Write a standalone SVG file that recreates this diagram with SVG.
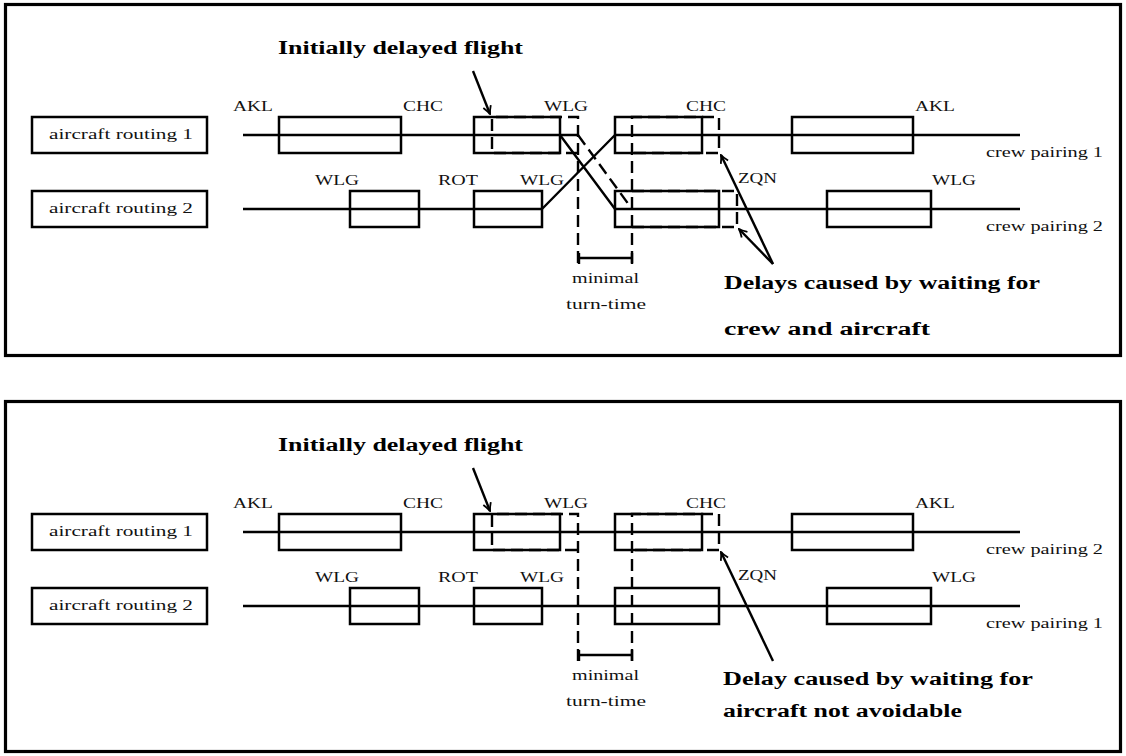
<svg xmlns="http://www.w3.org/2000/svg" width="1126" height="756" viewBox="0 0 1126 756">
<style>
.frame{fill:none;stroke:#000;stroke-width:3.2}
.box{fill:none;stroke:#000;stroke-width:2.5}
.ln{fill:none;stroke:#000;stroke-width:2.4}
.dash{fill:none;stroke:#000;stroke-width:2.4;stroke-dasharray:12 6}
.arr{fill:none;stroke:#000;stroke-width:2.4;marker-end:url(#ah)}
.t{font-family:"Liberation Serif",serif;font-size:14px;fill:#111}
.r{font-family:"Liberation Serif",serif;font-size:14.5px;fill:#111}
.b{font-family:"Liberation Serif",serif;font-size:18px;font-weight:bold;fill:#000}
.m{text-anchor:middle}
</style>
<defs>
<marker id="ah" viewBox="-9 -5 10 10" refX="0" refY="0" markerWidth="10" markerHeight="10" markerUnits="userSpaceOnUse" orient="auto">
<path d="M-8,-4 Q-3,-1 0,0 Q-3,1 -8,4" fill="none" stroke="#000" stroke-width="1.8"/>
</marker>
</defs>
<rect class="frame" x="5.5" y="4.5" width="1115" height="351"/>
<rect class="frame" x="5.5" y="401.5" width="1115" height="350"/>

<!-- TOP PANEL -->
<g id="top-panel">
<text class="b" x="278" y="54" textLength="245" lengthAdjust="spacingAndGlyphs">Initially delayed flight</text>
<g id="t-routing1"><rect class="box" x="32" y="117" width="175" height="36"/><text class="r" x="49" y="139" textLength="144" lengthAdjust="spacingAndGlyphs">aircraft routing 1</text></g>
<g id="t-routing2"><rect class="box" x="32" y="191" width="175" height="36"/><text class="r" x="49" y="213" textLength="144" lengthAdjust="spacingAndGlyphs">aircraft routing 2</text></g>
<g id="t-f11"><rect class="box" x="279" y="117" width="122" height="36"/></g>
<g id="t-f12"><rect class="box" x="474" y="117" width="86" height="36"/></g>
<g id="t-f13"><rect class="box" x="615" y="117" width="87" height="36"/></g>
<g id="t-f14"><rect class="box" x="792" y="117" width="121" height="36"/></g>
<g id="t-f21"><rect class="box" x="350" y="191" width="69" height="36"/></g>
<g id="t-f22"><rect class="box" x="474" y="191" width="68" height="36"/></g>
<g id="t-f23"><rect class="box" x="615" y="191" width="104" height="36"/></g>
<g id="t-f24"><rect class="box" x="827" y="191" width="104" height="36"/></g>
<g id="t-labels">
<text class="t" x="233" y="111" textLength="40" lengthAdjust="spacingAndGlyphs">AKL</text>
<text class="t" x="403" y="111" textLength="40" lengthAdjust="spacingAndGlyphs">CHC</text>
<text class="t" x="544" y="111" textLength="44" lengthAdjust="spacingAndGlyphs">WLG</text>
<text class="t" x="686" y="111" textLength="40" lengthAdjust="spacingAndGlyphs">CHC</text>
<text class="t" x="915" y="111" textLength="40" lengthAdjust="spacingAndGlyphs">AKL</text>
<text class="t" x="315" y="185" textLength="44" lengthAdjust="spacingAndGlyphs">WLG</text>
<text class="t" x="438" y="185" textLength="40" lengthAdjust="spacingAndGlyphs">ROT</text>
<text class="t" x="520" y="185" textLength="44" lengthAdjust="spacingAndGlyphs">WLG</text>
<text class="t" x="738" y="183" textLength="39" lengthAdjust="spacingAndGlyphs">ZQN</text>
<text class="t" x="932" y="185" textLength="44" lengthAdjust="spacingAndGlyphs">WLG</text>
<text class="t" x="986" y="157" textLength="117" lengthAdjust="spacingAndGlyphs">crew pairing 1</text>
<text class="t" x="986" y="231" textLength="117" lengthAdjust="spacingAndGlyphs">crew pairing 2</text>
<text class="t m" x="605.5" y="283" textLength="67" lengthAdjust="spacingAndGlyphs">minimal</text>
<text class="t m" x="606" y="309" textLength="80" lengthAdjust="spacingAndGlyphs">turn-time</text>
<text class="b" x="724" y="289" textLength="316" lengthAdjust="spacingAndGlyphs">Delays caused by waiting for</text>
<text class="b" x="724" y="335" textLength="206" lengthAdjust="spacingAndGlyphs">crew and aircraft</text>
</g>
</g>
<g id="top-connectors">
<path class="ln" d="M243,135 H578 M615,135 H1020 M243,209 H542 M615,209 H1020"/>
<path class="ln" d="M542,209 L615,135 M560,135 L615,209"/>
<path class="dash" d="M578,135 L632,209"/>
<path class="dash" d="M578,263 V117 H492 V153 H578"/>
<path class="dash" d="M632,263 V117 H719 V153 H632"/>
<path class="dash" d="M632,191 H737 V227 H632"/>
<path class="ln" d="M579,258 H632 M579,253 V264 M632,253 V264"/>
<path class="arr" d="M473,71 L490,114"/>
<path class="arr" d="M773,264 L721,155"/>
<path class="arr" d="M773,264 L739,229"/>
</g>

<!-- BOTTOM PANEL -->
<g id="bottom-panel">
<text class="b" x="278" y="451" textLength="245" lengthAdjust="spacingAndGlyphs">Initially delayed flight</text>
<g id="b-routing1"><rect class="box" x="32" y="514" width="175" height="36"/><text class="r" x="49" y="536" textLength="144" lengthAdjust="spacingAndGlyphs">aircraft routing 1</text></g>
<g id="b-routing2"><rect class="box" x="32" y="588" width="175" height="36"/><text class="r" x="49" y="610" textLength="144" lengthAdjust="spacingAndGlyphs">aircraft routing 2</text></g>
<g id="b-f11"><rect class="box" x="279" y="514" width="122" height="36"/></g>
<g id="b-f12"><rect class="box" x="474" y="514" width="86" height="36"/></g>
<g id="b-f13"><rect class="box" x="615" y="514" width="87" height="36"/></g>
<g id="b-f14"><rect class="box" x="792" y="514" width="121" height="36"/></g>
<g id="b-f21"><rect class="box" x="350" y="588" width="69" height="36"/></g>
<g id="b-f22"><rect class="box" x="474" y="588" width="68" height="36"/></g>
<g id="b-f23"><rect class="box" x="615" y="588" width="104" height="36"/></g>
<g id="b-f24"><rect class="box" x="827" y="588" width="104" height="36"/></g>
<g id="b-labels">
<text class="t" x="233" y="508" textLength="40" lengthAdjust="spacingAndGlyphs">AKL</text>
<text class="t" x="403" y="508" textLength="40" lengthAdjust="spacingAndGlyphs">CHC</text>
<text class="t" x="544" y="508" textLength="44" lengthAdjust="spacingAndGlyphs">WLG</text>
<text class="t" x="686" y="508" textLength="40" lengthAdjust="spacingAndGlyphs">CHC</text>
<text class="t" x="915" y="508" textLength="40" lengthAdjust="spacingAndGlyphs">AKL</text>
<text class="t" x="315" y="582" textLength="44" lengthAdjust="spacingAndGlyphs">WLG</text>
<text class="t" x="438" y="582" textLength="40" lengthAdjust="spacingAndGlyphs">ROT</text>
<text class="t" x="520" y="582" textLength="44" lengthAdjust="spacingAndGlyphs">WLG</text>
<text class="t" x="738" y="580" textLength="39" lengthAdjust="spacingAndGlyphs">ZQN</text>
<text class="t" x="932" y="582" textLength="44" lengthAdjust="spacingAndGlyphs">WLG</text>
<text class="t" x="986" y="554" textLength="117" lengthAdjust="spacingAndGlyphs">crew pairing 2</text>
<text class="t" x="986" y="628" textLength="117" lengthAdjust="spacingAndGlyphs">crew pairing 1</text>
<text class="t m" x="605.5" y="680" textLength="67" lengthAdjust="spacingAndGlyphs">minimal</text>
<text class="t m" x="606" y="706" textLength="80" lengthAdjust="spacingAndGlyphs">turn-time</text>
<text class="b" x="723" y="685" textLength="310" lengthAdjust="spacingAndGlyphs">Delay caused by waiting for</text>
<text class="b" x="723" y="717" textLength="239" lengthAdjust="spacingAndGlyphs">aircraft not avoidable</text>
</g>
</g>
<g id="bottom-connectors">
<path class="ln" d="M243,532 H1020 M243,606 H1020"/>
<path class="dash" d="M578,661 V514 H492 V550 H578"/>
<path class="dash" d="M632,661 V514 H719 V550 H632"/>
<path class="ln" d="M579,655 H632 M579,650 V661 M632,650 V661"/>
<path class="arr" d="M473,468 L490,511"/>
<path class="arr" d="M773,661 L721,552"/>
</g>
</svg>
